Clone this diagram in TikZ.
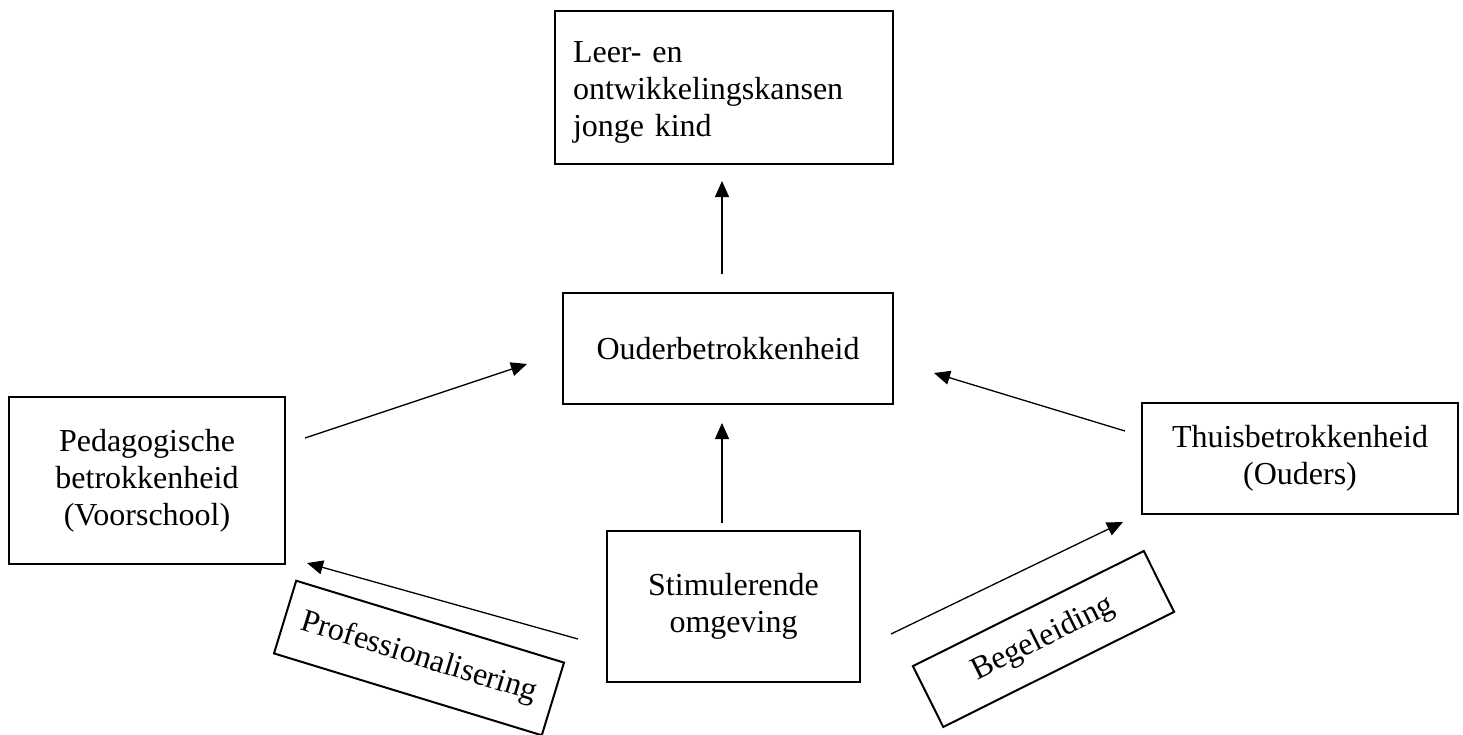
\documentclass[tikz,border=0pt]{standalone}
\usepackage{fontspec}
\setmainfont{Liberation Serif}
\usetikzlibrary{arrows.meta}
\begin{document}
\begin{tikzpicture}[x=1pt,y=-1pt,
  box/.style={draw, line width=2pt, inner sep=0pt, align=center,
    font=\fontsize{32}{37}\selectfont},
  arr/.style={line width=1.3pt, -{Triangle[length=16pt,width=14pt]}}]
\useasboundingbox (0,0) rectangle (1463,734);
% boxes
\node[box, minimum width=338pt, minimum height=153pt, text width=302pt, align=left]
  (kans) at (724,87.5) {\rule{0pt}{31pt}Leer- en\\ontwikkelingskansen\\jonge kind};
\node[box, minimum width=330pt, minimum height=111pt] (ouder) at (728,348.5) {Ouderbetrokkenheid};
\node[box, minimum width=276pt, minimum height=167pt] (ped) at (147,480.5) {Pedagogische\\betrokkenheid\\(Voorschool)};
\node[box, minimum width=316pt, minimum height=111pt] (thuis) at (1300,458.5) {Thuisbetrokkenheid\\(Ouders)};
\node[box, minimum width=253pt, minimum height=151pt] (stim) at (733.5,606.5) {Stimulerende\\omgeving};
\node[box, rotate=-17, minimum width=280pt, minimum height=76pt] (prof) at (419,658) {Professionalisering};
\node[box, rotate=26.5, minimum width=258pt, minimum height=68pt] (beg) at (1043.5,639) {Begeleiding};
% arrow end points
\coordinate (a1s) at (722,274); \coordinate (a1e) at (722,181);
\coordinate (a2s) at (722,523); \coordinate (a2e) at (722,423);
\coordinate (a3s) at (305,438); \coordinate (a3e) at (527,364);
\coordinate (a4s) at (1125,431); \coordinate (a4e) at (934,373);
\coordinate (a5s) at (578,639); \coordinate (a5e) at (307,563);
\coordinate (a6s) at (891,634); \coordinate (a6e) at (1123,522);
\draw[arr] (a1s) -- (a1e);
\draw[arr] (a2s) -- (a2e);
\draw[arr] (a3s) -- (a3e);
\draw[arr] (a4s) -- (a4e);
\draw[arr] (a5s) -- (a5e);
\draw[arr] (a6s) -- (a6e);
\end{tikzpicture}
\end{document}
